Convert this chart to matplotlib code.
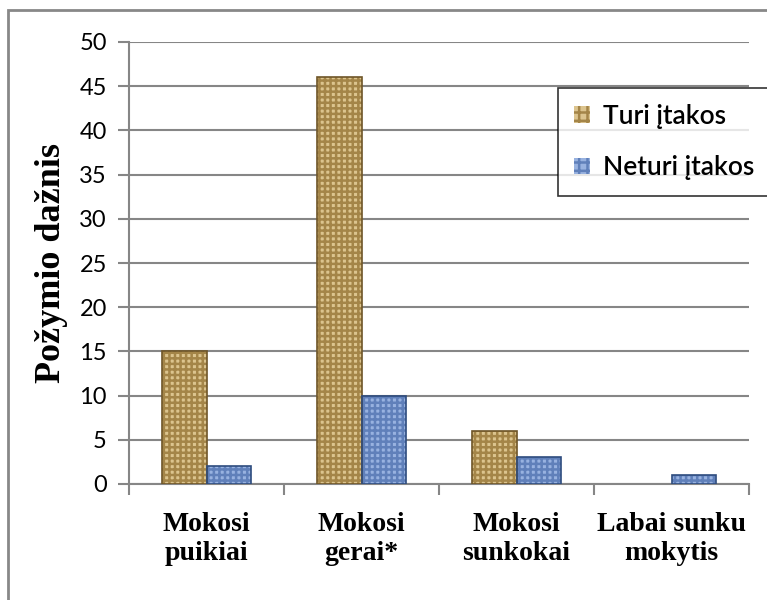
import matplotlib
matplotlib.use("Agg")
import matplotlib.pyplot as plt
import numpy as np
from matplotlib.patches import Rectangle

categories = ["Mokosi\npuikiai", "Mokosi\ngerai*", "Mokosi\nsunkokai", "Labai sunku\nmokytis"]
series_names = ["Turi įtakos", "Neturi įtakos"]
turi = [15, 46, 6, 0]
neturi = [2, 10, 3, 1]
yticks = [0, 5, 10, 15, 20, 25, 30, 35, 40, 45, 50]
ylabel = "Požymio dažnis"

plt.rcParams['hatch.linewidth'] = 1.8

fig = plt.figure(figsize=(7.67, 6.0), dpi=100)
ax = fig.add_axes([129/767, 116/600, 620/767, 442/600])

x = np.arange(len(categories))
w = 0.29
styles = [
    dict(face="#DCC48E", hatch_col="#A48548", edge="#6E5528", hatch="+++"),
    dict(face="#98B2E0", hatch_col="#6080BA", edge="#2E4C7E", hatch="+++"),
]
handles = []
for i, (vals, st) in enumerate(zip([turi, neturi], styles)):
    off = (i - 0.5) * w
    ax.bar(x + off, vals, w, color=st["face"], edgecolor=st["hatch_col"],
           hatch=st["hatch"], linewidth=0, zorder=3)
    lws = [1.2 if v > 0 else 0 for v in vals]
    ax.bar(x + off, vals, w, fill=False, edgecolor=st["edge"], linewidth=lws, zorder=4)
    handles.append(Rectangle((0, 0), 1, 1, facecolor=st["face"], edgecolor=st["hatch_col"],
                             hatch="++", linewidth=0))

ax.set_xlim(-0.5, len(categories) - 0.5)
ax.set_ylim(0, 50)
ax.set_yticks(yticks)
ax.set_yticklabels([str(v) for v in yticks], fontfamily="Lato", fontsize=17)
ax.yaxis.grid(True, color="#868686", linewidth=1.5, zorder=0)
ax.set_axisbelow(True)

ax.set_xticks(x)
ax.set_xticklabels(categories, fontfamily="Liberation Serif", fontweight="bold",
                   fontsize=20, linespacing=1.2)
ax.tick_params(axis="x", which="major", length=0, pad=20)
ax.set_xticks(np.arange(-0.5, len(categories)), minor=True)
ax.tick_params(axis="x", which="minor", length=8, color="#868686", width=1.5)
ax.tick_params(axis="y", length=8, color="#868686", width=1.5, pad=8)

for s in ["top", "right"]:
    ax.spines[s].set_visible(False)
for s in ["left", "bottom"]:
    ax.spines[s].set_color("#868686")
    ax.spines[s].set_linewidth(1.5)

ax.set_ylabel(ylabel, fontfamily="Liberation Serif", fontweight="bold", fontsize=26, labelpad=8)

leg = fig.legend(handles, series_names, loc="upper left",
                 bbox_to_anchor=(558/767, 1 - 88/600),
                 prop=dict(family="Lato", size=19, weight="semibold"),
                 frameon=True, fancybox=False, edgecolor="black",
                 labelspacing=1.0, handlelength=0.6, handleheight=0.6,
                 handletextpad=0.5, borderpad=0.6, borderaxespad=0)
leg.get_frame().set_linewidth(1.2)

fig.patches.append(Rectangle((8/767, -0.05), 1.1, 1.05 - 10/600, transform=fig.transFigure,
                             fill=False, edgecolor="#888888", linewidth=2, zorder=0))

fig.savefig("out.png", dpi=100)
